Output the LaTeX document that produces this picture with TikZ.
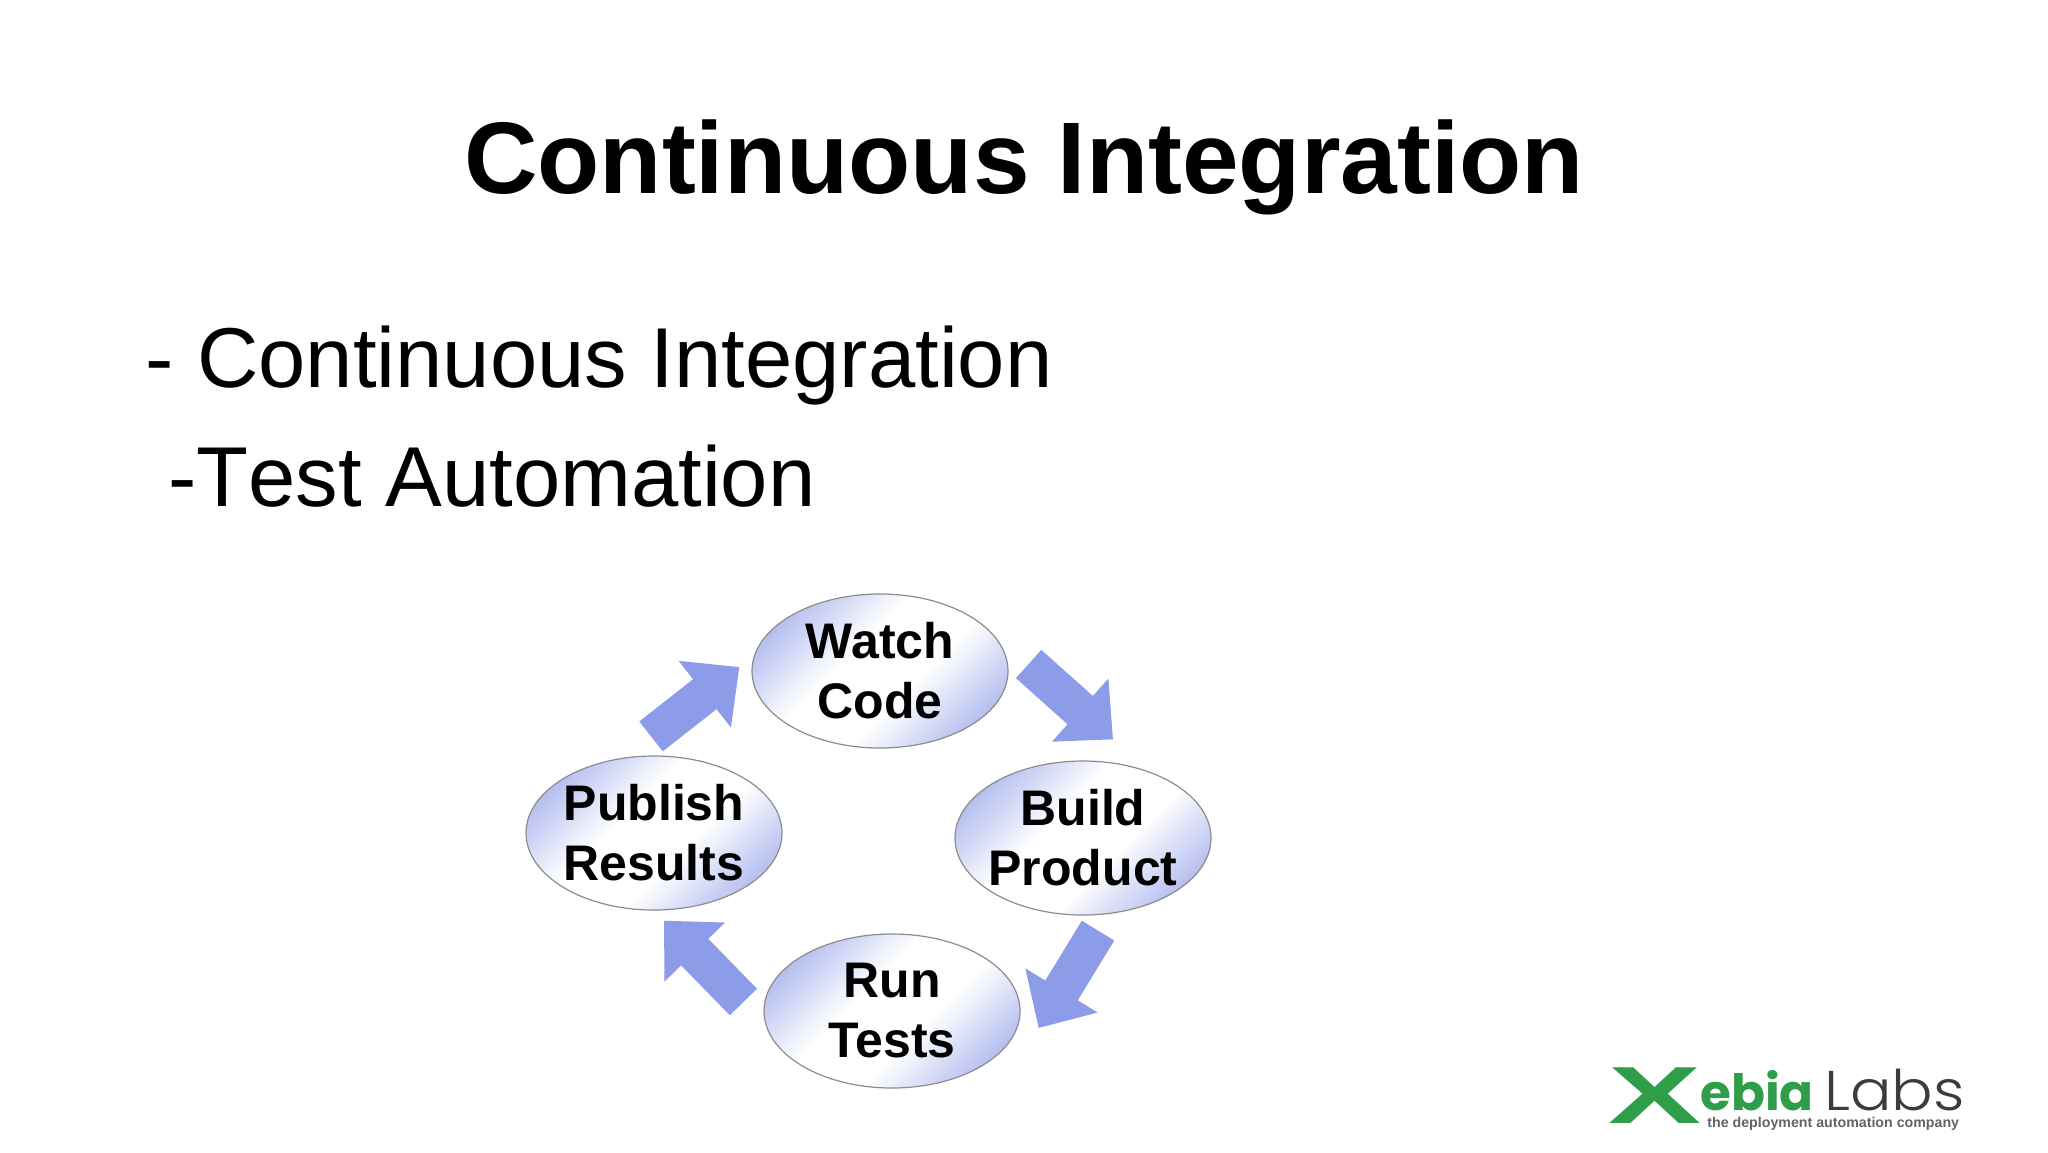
\documentclass[tikz,border=0pt]{standalone}
\usepackage{fontspec}
\usetikzlibrary{arrows.meta,shapes.geometric}
\setmainfont{Liberation Sans}
\newfontfamily\logofont{Poppins}
\newfontfamily\labsfont{Poppins Light}
\definecolor{flowblue}{HTML}{8C9CE8}
\definecolor{ovalblue}{HTML}{98A4EA}
\definecolor{logogreen}{HTML}{2F9E48}
\definecolor{logogray}{HTML}{3A3C3E}
\pgfdeclareverticalshading{ovalshade}{100bp}{color(0bp)=(ovalblue);color(17bp)=(ovalblue);color(42bp)=(white);color(58bp)=(white);color(83bp)=(ovalblue);color(100bp)=(ovalblue)}
\tikzset{
    stepoval/.style={ellipse,draw=black!45,line width=0.6pt,minimum width=128pt,minimum height=77pt,inner sep=-5pt,
        align=center,font=\fontsize{25}{30}\selectfont\bfseries,shading=ovalshade,shading angle=45},
    flowarrow/.style={draw=flowblue,line width=19pt,-{Triangle[length=22pt,width=41pt,fill=flowblue]}},
    slideline/.style={anchor=base west,font=\fontsize{42.5}{50}\selectfont}
}
\begin{document}
\begin{tikzpicture}[x=0.5pt,y=-0.5pt]
    \useasboundingbox (0,0) rectangle (2048,1152);
    \node[anchor=base,font=\fontsize{50.9}{60}\selectfont\bfseries] (title) at (1024,193.5) {Continuous Integration};
    \node[slideline,inner sep=0] (lineone) at (145,387) {- Continuous Integration};
    \node[slideline,inner sep=0] (linetwo) at (168,506) {-\mbox{T}est Automation};
    \node[stepoval] (watchcode) at (880,671) {Watch\\Code};
    \node[stepoval] (buildproduct) at (1083,838) {Build\\Product};
    \node[stepoval] (runtests) at (892,1011) {Run\\Tests};
    \node[stepoval] (publishresults) at (654,833) {Publish\\Results};
    \draw[flowarrow] ([shift={(20,-7)}]watchcode.east) -- ([shift={(30,-21)}]buildproduct.north);
    \draw[flowarrow] ([shift={(15,15)}]buildproduct.south) -- ([shift={(18,17)}]runtests.east);
    \draw[flowarrow] ([shift={(-20,-9)}]runtests.west) -- ([shift={(10,10)}]publishresults.south);
    \draw[flowarrow] ([shift={(-3,-19)}]publishresults.north) -- ([shift={(-12,-4)}]watchcode.west);
    \node[anchor=base west,inner sep=0,text=logogreen,xscale=1.72,font=\fontsize{40.5}{40}\selectfont\bfseries] (logox) at (1608,1123) {X};
    \node[anchor=base west,inner sep=0,text=logogreen,font=\logofont\fontsize{25}{30}\selectfont\bfseries] (logoebia) at (1700,1110) {ebia};
    \node[anchor=base west,inner sep=0,text=logogray,xscale=1.1,font=\labsfont\fontsize{28}{30}\selectfont] (logolabs) at (1824,1110) {Labs};
    \node[anchor=base west,inner sep=0,text=logogray!80,font=\fontsize{7.1}{9}\selectfont\bfseries] (logotag) at (1707,1127) {the deployment automation company};
\end{tikzpicture}
\end{document}
